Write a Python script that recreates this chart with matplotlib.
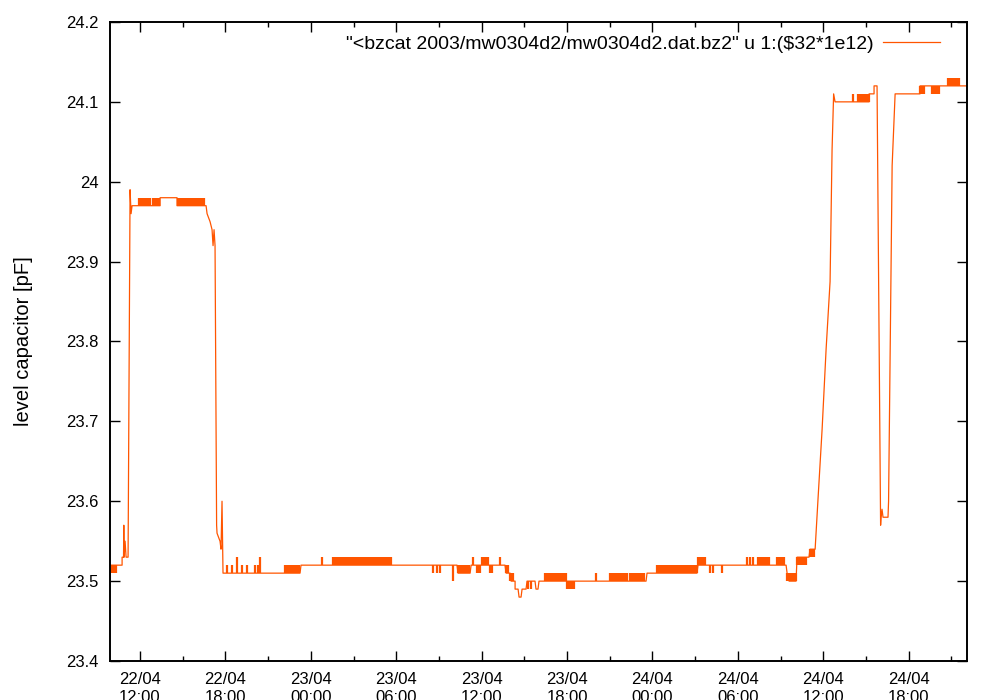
import matplotlib
matplotlib.use('Agg')
import matplotlib.pyplot as plt
import matplotlib.dates as mdates
import pandas as pd

plt.rcParams['font.family'] = ['Liberation Sans', 'DejaVu Sans']

# hours since 22/04/2003 00:00
t0 = pd.Timestamp('2003-04-22 00:00')
xlim_h = [9.89, 70.10]

# main trace (hours, pF)
path_h = [9.89, 10.74, 10.74, 10.84, 10.86, 10.88, 10.95, 11.02, 11.16, 11.30,
          11.37, 11.44, 13.41, 13.41, 14.60, 14.60, 16.64, 16.71, 16.92, 17.06,
          17.13, 17.20, 17.27, 17.38, 17.41, 17.62, 17.69, 17.76, 17.83, 23.24,
          23.31, 34.27, 34.34, 35.19, 35.26, 37.64, 37.72, 38.00, 38.07, 38.35,
          38.35, 38.56, 38.63, 38.77, 38.84, 39.12, 39.19, 39.75, 39.82, 39.96,
          40.03, 47.55, 47.62, 51.13, 51.20, 57.39, 57.46, 57.60, 58.09, 58.16,
          59.00, 59.07, 59.43, 59.64, 59.92, 60.20, 60.48, 60.62, 60.73, 60.83,
          63.22, 63.22, 63.57, 63.57, 63.78, 64.03, 64.06, 64.13, 64.20, 64.55,
          64.59, 64.84, 65.05, 66.80, 66.80, 70.10]
path_v = [23.52, 23.52, 23.53, 23.53, 23.57, 23.53, 23.55, 23.53, 23.53, 23.99,
          23.96, 23.97, 23.97, 23.98, 23.98, 23.97, 23.97, 23.96, 23.95, 23.94,
          23.92, 23.94, 23.92, 23.57, 23.56, 23.55, 23.54, 23.60, 23.51, 23.51,
          23.52, 23.52, 23.51, 23.51, 23.52, 23.52, 23.51, 23.51, 23.50, 23.50,
          23.49, 23.49, 23.48, 23.48, 23.49, 23.49, 23.50, 23.50, 23.49, 23.49,
          23.50, 23.50, 23.51, 23.51, 23.52, 23.52, 23.51, 23.50, 23.50, 23.53,
          23.53, 23.54, 23.54, 23.605, 23.69, 23.79, 23.875, 24.04, 24.11, 24.10,
          24.10, 24.11, 24.11, 24.12, 24.12, 23.57, 23.58, 23.59, 23.58, 23.58,
          23.60, 24.02, 24.11, 24.11, 24.12, 24.12]

# flicker between two adjacent readings (times in hours)
flick_2351_2352 = [10.03, 10.17, 10.31,
                   18.11, 18.46, 18.82, 19.17, 19.52, 20.08, 20.29, 20.43,
                   22.19, 22.29, 22.39, 22.49, 22.59, 22.69, 22.79, 22.89, 22.99, 23.09, 23.19,
                   32.59, 32.87, 33.08,
                   34.34, 34.44, 34.54, 34.64, 34.74, 34.84, 34.94, 35.04, 35.14,
                   35.68, 35.78, 35.89, 36.59, 36.73, 37.72, 37.86,
                   48.32, 48.42, 48.52, 48.62, 48.72, 48.82, 48.92, 49.02, 49.12, 49.22,
                   49.32, 49.42, 49.52, 49.62, 49.72, 49.82, 49.92, 50.02, 50.12, 50.22,
                   50.32, 50.42, 50.52, 50.62, 50.72, 50.82, 50.92, 51.02, 51.12,
                   52.05, 52.26, 52.89]
flick_2352_2353 = [18.82, 20.43, 24.79,
                   25.56, 25.66, 25.76, 25.86, 25.96, 26.06, 26.16, 26.26, 26.36, 26.46,
                   26.56, 26.66, 26.76, 26.86, 26.96, 27.06, 27.16, 27.26, 27.36, 27.46,
                   27.56, 27.66, 27.76, 27.86, 27.96, 28.06, 28.16, 28.26, 28.36, 28.46,
                   28.56, 28.66, 28.76, 28.86, 28.96, 29.06, 29.16, 29.26, 29.36, 29.46,
                   29.56, 29.66,
                   35.40, 36.03, 36.13, 36.23, 36.33, 36.45, 37.29,
                   51.20, 51.30, 51.40, 51.50, 51.60, 51.70,
                   54.65, 54.86, 55.07,
                   55.42, 55.52, 55.62, 55.72, 55.82, 55.92, 56.02, 56.12, 56.22,
                   56.76, 56.86, 56.96, 57.06, 57.16, 57.26,
                   58.16, 58.26, 58.36, 58.46, 58.56, 58.66, 58.76]
flick_2353_2354 = [59.07, 59.17, 59.27, 59.37]
flick_2350_2351 = [38.00, 38.07, 38.14, 38.21,
                   40.46, 40.56, 40.66, 40.76, 40.86, 40.96, 41.06, 41.16, 41.26, 41.36,
                   41.46, 41.56, 41.66, 41.76, 41.86, 41.96,
                   44.04,
                   45.02, 45.12, 45.22, 45.32, 45.42, 45.52, 45.62, 45.72, 45.82, 45.92,
                   46.02, 46.12, 46.22, 46.42, 46.52, 46.62, 46.72, 46.82, 46.92, 47.02,
                   47.12, 47.22, 47.32, 47.42,
                   57.46, 57.56, 57.66, 57.76, 57.86, 57.96, 58.06]
flick_2349_2350 = [39.26, 39.47, 42.00, 42.10, 42.20, 42.30, 42.40, 42.50]
flick_2350_2352 = [33.99]
flick_2397_2398 = [11.93, 12.03, 12.13, 12.23, 12.33, 12.43, 12.53, 12.63, 12.73, 12.93,
                   13.03, 13.13, 13.23, 13.33,
                   14.70, 14.80, 14.90, 15.00, 15.10, 15.20, 15.30, 15.40, 15.50, 15.60,
                   15.70, 15.80, 15.90, 16.00, 16.10, 16.20, 16.30, 16.40, 16.50]
flick_2410_2411 = [62.10, 62.45, 62.59, 62.69, 62.79, 62.89, 62.99, 63.09, 63.19]
flick_2411_2412 = [66.80, 66.90, 67.00, 67.10, 67.65, 67.75, 67.85, 67.95, 68.05, 68.15]
flick_2412_2413 = [68.77, 68.87, 68.97, 69.07, 69.17, 69.27, 69.37, 69.47, 69.57]

legend_label = '"<bzcat 2003/mw0304d2/mw0304d2.dat.bz2" u 1:($32*1e12)'
color = '#ff5500'


def to_time(hours):
    return t0 + pd.to_timedelta(hours, unit='h')


fig = plt.figure(figsize=(10, 7), dpi=100)
ax = fig.add_axes([0.110, 0.0557, 0.857, 0.9129])

ax.plot(to_time(path_h), path_v, color=color, lw=0.9, label=legend_label)
for times, lo, hi in [(flick_2351_2352, 23.51, 23.52), (flick_2352_2353, 23.52, 23.53),
                      (flick_2353_2354, 23.53, 23.54), (flick_2350_2351, 23.50, 23.51),
                      (flick_2349_2350, 23.49, 23.50), (flick_2350_2352, 23.50, 23.52),
                      (flick_2397_2398, 23.97, 23.98), (flick_2410_2411, 24.10, 24.11),
                      (flick_2411_2412, 24.11, 24.12), (flick_2412_2413, 24.12, 24.13)]:
    ax.vlines(to_time(times), lo, hi, color=color, lw=1.6)

ax.set_xlim(to_time(xlim_h[0]), to_time(xlim_h[1]))
ax.set_ylim(23.4, 24.2)
ax.set_yticks([23.4, 23.5, 23.6, 23.7, 23.8, 23.9, 24.0, 24.1, 24.2])
ax.set_yticklabels(['23.4', '23.5', '23.6', '23.7', '23.8', '23.9', '24', '24.1', '24.2'])
ax.xaxis.set_major_locator(mdates.HourLocator(byhour=[0, 6, 12, 18]))
ax.xaxis.set_minor_locator(mdates.HourLocator(byhour=[3, 9, 15, 21]))
ax.xaxis.set_major_formatter(mdates.DateFormatter('%d/%m\n%H:%M'))

ax.tick_params(which='both', direction='in', top=True, right=True, labelsize=12, width=1)
ax.tick_params(which='major', length=7)
ax.tick_params(which='minor', length=3.5)
ax.tick_params(axis='x', pad=8)
ax.tick_params(axis='y', pad=8)
for s in ax.spines.values():
    s.set_linewidth(1.4)

ax.set_ylabel('level capacitor [pF]', fontsize=14.5, labelpad=24)

ax.legend(loc='upper right', frameon=False, markerfirst=False, fontsize=14,
          handlelength=2.9, handletextpad=0.5, borderaxespad=0.3,
          bbox_to_anchor=(0.984, 1.0))

fig.savefig('out.png', dpi=100)
